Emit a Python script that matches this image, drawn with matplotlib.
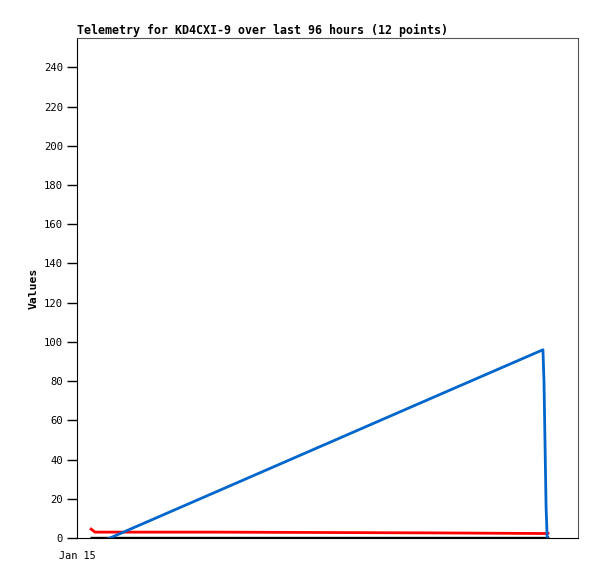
import numpy as np
import matplotlib
matplotlib.use('Agg')
import matplotlib.pyplot as plt

# hours since start of window (Jan 15 00:00), 12 telemetry points
hours = [2.5, 3.45, 26.8, 47.7, 68.6, 89.3, 89.5, 89.7, 89.9, 90.1, 90.25, 90.4]
ch_black = [0, 0, 0, 0, 0, 0, 0, 0, 0, 0, 0, 0]
ch_red = [5.0, 3.0, 3.0, 2.8, 2.6, 2.3, 2.3, 2.3, 2.3, 2.3, 2.3, 3.0]
ch_blue = [-4.4, -3.3, 23.7, 47.9, 72.1, 96.0, 80.0, 48.0, 16.0, 1.0, 0.0, 0.0]

yticks = np.arange(0, 241, 20)
xtick_labels = ['Jan 15']

plt.rcParams['font.family'] = ['DejaVu Sans Mono']

fig = plt.figure(figsize=(5.97, 5.79), dpi=100)
ax = fig.add_axes([0.129, 0.0708, 0.839, 0.8636])

ax.plot(hours, ch_black, color='black', lw=2.4, solid_capstyle='butt')
ax.plot(hours, ch_red, color='#ff0000', lw=2.0, solid_capstyle='butt')
ax.plot(hours, ch_blue, color='#0066cc', lw=2.0, solid_capstyle='butt')

ax.set_xlim(0, 96)
ax.set_ylim(0, 255)
ax.set_yticks(yticks)
ax.set_xticks([0])
ax.set_xticklabels(xtick_labels)
ax.tick_params(axis='y', length=7, width=1, labelsize=7.6, direction='out', pad=3)
ax.tick_params(axis='x', length=0, labelsize=7.4, pad=9)

for s in ['top', 'right']:
    ax.spines[s].set_color('#555555')
for s in ['left', 'bottom']:
    ax.spines[s].set_color('black')

ax.set_ylabel('Values', fontsize=8.2, fontweight='bold', labelpad=4)
ax.set_title('Telemetry for KD4CXI-9 over last 96 hours (12 points)',
             loc='left', fontsize=8.4, fontweight='bold', pad=3)

plt.savefig('out.png', dpi=100)
